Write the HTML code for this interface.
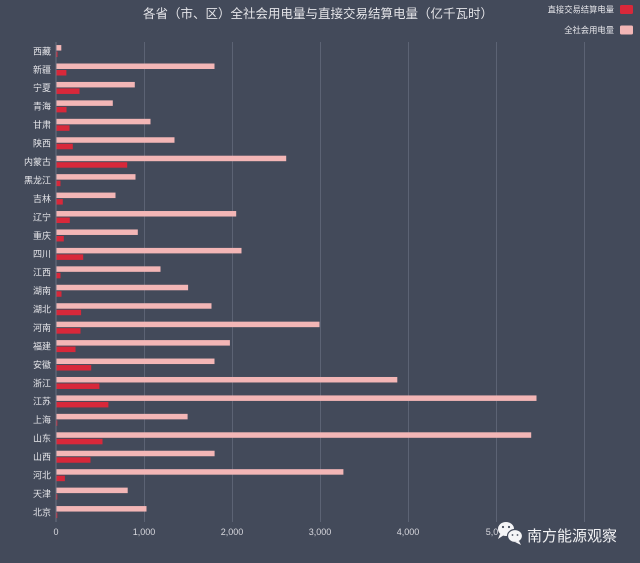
<!DOCTYPE html>
<html>
<head>
<meta charset="utf-8">
<style>
html,body{margin:0;padding:0;background:#434a5a;}
svg{display:block;}
text{font-family:"Liberation Sans","Noto Sans CJK SC",sans-serif;}
</style>
</head>
<body>
<svg width="640" height="563" viewBox="0 0 640 563" xmlns="http://www.w3.org/2000/svg">
<rect x="0" y="0" width="640" height="563" fill="#434a5a"/>
<text x="318" y="18" font-size="12.5" fill="#e4e4e8" text-anchor="middle">各省（市、区）全社会用电量与直接交易结算电量（亿千瓦时）</text>
<text x="614" y="12.5" font-size="8.3" fill="#e8e8ec" text-anchor="end">直接交易结算电量</text>
<rect x="620" y="5" width="13" height="9" rx="1.5" fill="#d8283a"/>
<text x="614" y="33" font-size="8.3" fill="#e8e8ec" text-anchor="end">全社会用电量</text>
<rect x="620" y="25.5" width="13" height="9" rx="1.5" fill="#f3b6b6"/>
<g stroke="#5c6374" stroke-width="1">
<line x1="144.5" y1="42" x2="144.5" y2="522"/>
<line x1="232.5" y1="42" x2="232.5" y2="522"/>
<line x1="320.5" y1="42" x2="320.5" y2="522"/>
<line x1="408.5" y1="42" x2="408.5" y2="522"/>
<line x1="496.5" y1="42" x2="496.5" y2="522"/>
<line x1="584.5" y1="42" x2="584.5" y2="522"/>
</g>
<line x1="56" y1="42" x2="56" y2="522" stroke="#6a7080" stroke-width="1"/>
<g fill="#f3b6b6">
<rect x="56.5" y="45.06" width="4.8" height="5.5"/>
<rect x="56.5" y="63.50" width="158.0" height="5.5"/>
<rect x="56.5" y="81.94" width="78.3" height="5.5"/>
<rect x="56.5" y="100.38" width="56.3" height="5.5"/>
<rect x="56.5" y="118.82" width="94.0" height="5.5"/>
<rect x="56.5" y="137.26" width="118.0" height="5.5"/>
<rect x="56.5" y="155.70" width="229.7" height="5.5"/>
<rect x="56.5" y="174.14" width="79.0" height="5.5"/>
<rect x="56.5" y="192.58" width="59.0" height="5.5"/>
<rect x="56.5" y="211.02" width="179.7" height="5.5"/>
<rect x="56.5" y="229.46" width="81.3" height="5.5"/>
<rect x="56.5" y="247.90" width="185.0" height="5.5"/>
<rect x="56.5" y="266.34" width="104.0" height="5.5"/>
<rect x="56.5" y="284.78" width="131.6" height="5.5"/>
<rect x="56.5" y="303.22" width="155.0" height="5.5"/>
<rect x="56.5" y="321.66" width="263.0" height="5.5"/>
<rect x="56.5" y="340.10" width="173.4" height="5.5"/>
<rect x="56.5" y="358.54" width="158.0" height="5.5"/>
<rect x="56.5" y="376.98" width="340.8" height="5.5"/>
<rect x="56.5" y="395.42" width="480.0" height="5.5"/>
<rect x="56.5" y="413.86" width="131.1" height="5.5"/>
<rect x="56.5" y="432.30" width="474.7" height="5.5"/>
<rect x="56.5" y="450.74" width="158.1" height="5.5"/>
<rect x="56.5" y="469.18" width="286.9" height="5.5"/>
<rect x="56.5" y="487.62" width="71.2" height="5.5"/>
<rect x="56.5" y="506.06" width="90.0" height="5.5"/>
</g>
<g fill="#d8283a">
<rect x="56.5" y="51.56" width="1" height="5.5"/>
<rect x="56.5" y="70.00" width="9.9" height="5.5"/>
<rect x="56.5" y="88.44" width="23.0" height="5.5"/>
<rect x="56.5" y="106.88" width="10.0" height="5.5"/>
<rect x="56.5" y="125.32" width="13.0" height="5.5"/>
<rect x="56.5" y="143.76" width="16.3" height="5.5"/>
<rect x="56.5" y="162.20" width="70.7" height="5.5"/>
<rect x="56.5" y="180.64" width="4.0" height="5.5"/>
<rect x="56.5" y="199.08" width="6.3" height="5.5"/>
<rect x="56.5" y="217.52" width="13.3" height="5.5"/>
<rect x="56.5" y="235.96" width="7.3" height="5.5"/>
<rect x="56.5" y="254.40" width="26.7" height="5.5"/>
<rect x="56.5" y="272.84" width="4.0" height="5.5"/>
<rect x="56.5" y="291.28" width="5.0" height="5.5"/>
<rect x="56.5" y="309.72" width="24.6" height="5.5"/>
<rect x="56.5" y="328.16" width="24.0" height="5.5"/>
<rect x="56.5" y="346.60" width="19.0" height="5.5"/>
<rect x="56.5" y="365.04" width="34.7" height="5.5"/>
<rect x="56.5" y="383.48" width="42.9" height="5.5"/>
<rect x="56.5" y="401.92" width="51.9" height="5.5"/>
<rect x="56.5" y="420.36" width="0.8" height="5.5"/>
<rect x="56.5" y="438.80" width="46.0" height="5.5"/>
<rect x="56.5" y="457.24" width="34.0" height="5.5"/>
<rect x="56.5" y="475.68" width="8.4" height="5.5"/>
<rect x="56.5" y="494.12" width="0.8" height="5.5"/>
<rect x="56.5" y="512.56" width="0.8" height="5.5"/>
</g>
<g font-size="9" fill="#e6e6ea" text-anchor="end">
<text x="51" y="54.4">西藏</text>
<text x="51" y="72.8">新疆</text>
<text x="51" y="91.2">宁夏</text>
<text x="51" y="109.7">青海</text>
<text x="51" y="128.1">甘肃</text>
<text x="51" y="146.6">陕西</text>
<text x="51" y="165.0">内蒙古</text>
<text x="51" y="183.4">黑龙江</text>
<text x="51" y="201.9">吉林</text>
<text x="51" y="220.3">辽宁</text>
<text x="51" y="238.8">重庆</text>
<text x="51" y="257.2">四川</text>
<text x="51" y="275.6">江西</text>
<text x="51" y="294.1">湖南</text>
<text x="51" y="312.5">湖北</text>
<text x="51" y="331.0">河南</text>
<text x="51" y="349.4">福建</text>
<text x="51" y="367.8">安徽</text>
<text x="51" y="386.3">浙江</text>
<text x="51" y="404.7">江苏</text>
<text x="51" y="423.2">上海</text>
<text x="51" y="441.6">山东</text>
<text x="51" y="460.0">山西</text>
<text x="51" y="478.5">河北</text>
<text x="51" y="496.9">天津</text>
<text x="51" y="515.4">北京</text>
</g>
<g font-size="9" fill="#d8d8de" text-anchor="middle">
<text x="56" y="535">0</text>
<text x="144" y="535">1,000</text>
<text x="232" y="535">2,000</text>
<text x="320" y="535">3,000</text>
<text x="408" y="535">4,000</text>
<text x="492" y="535">5,0</text>
</g>
<g fill="#f4f4f6">
<ellipse cx="506" cy="529" rx="8" ry="7"/>
<path d="M500 534 L498 539 L504 535 Z"/>
<ellipse cx="515" cy="536" rx="7.5" ry="6.5" stroke="#434a5a" stroke-width="1.2"/>
<path d="M519 541 L521 545 L515 542 Z"/>
</g>
<g fill="#434a5a">
<circle cx="503" cy="527" r="1.1"/><circle cx="509" cy="527" r="1.1"/>
<circle cx="512.5" cy="535" r="0.9"/><circle cx="517.5" cy="535" r="0.9"/>
</g>
<text x="527" y="541" font-size="15" fill="#f2f2f4">南方能源观察</text>
</svg>
</body>
</html>
